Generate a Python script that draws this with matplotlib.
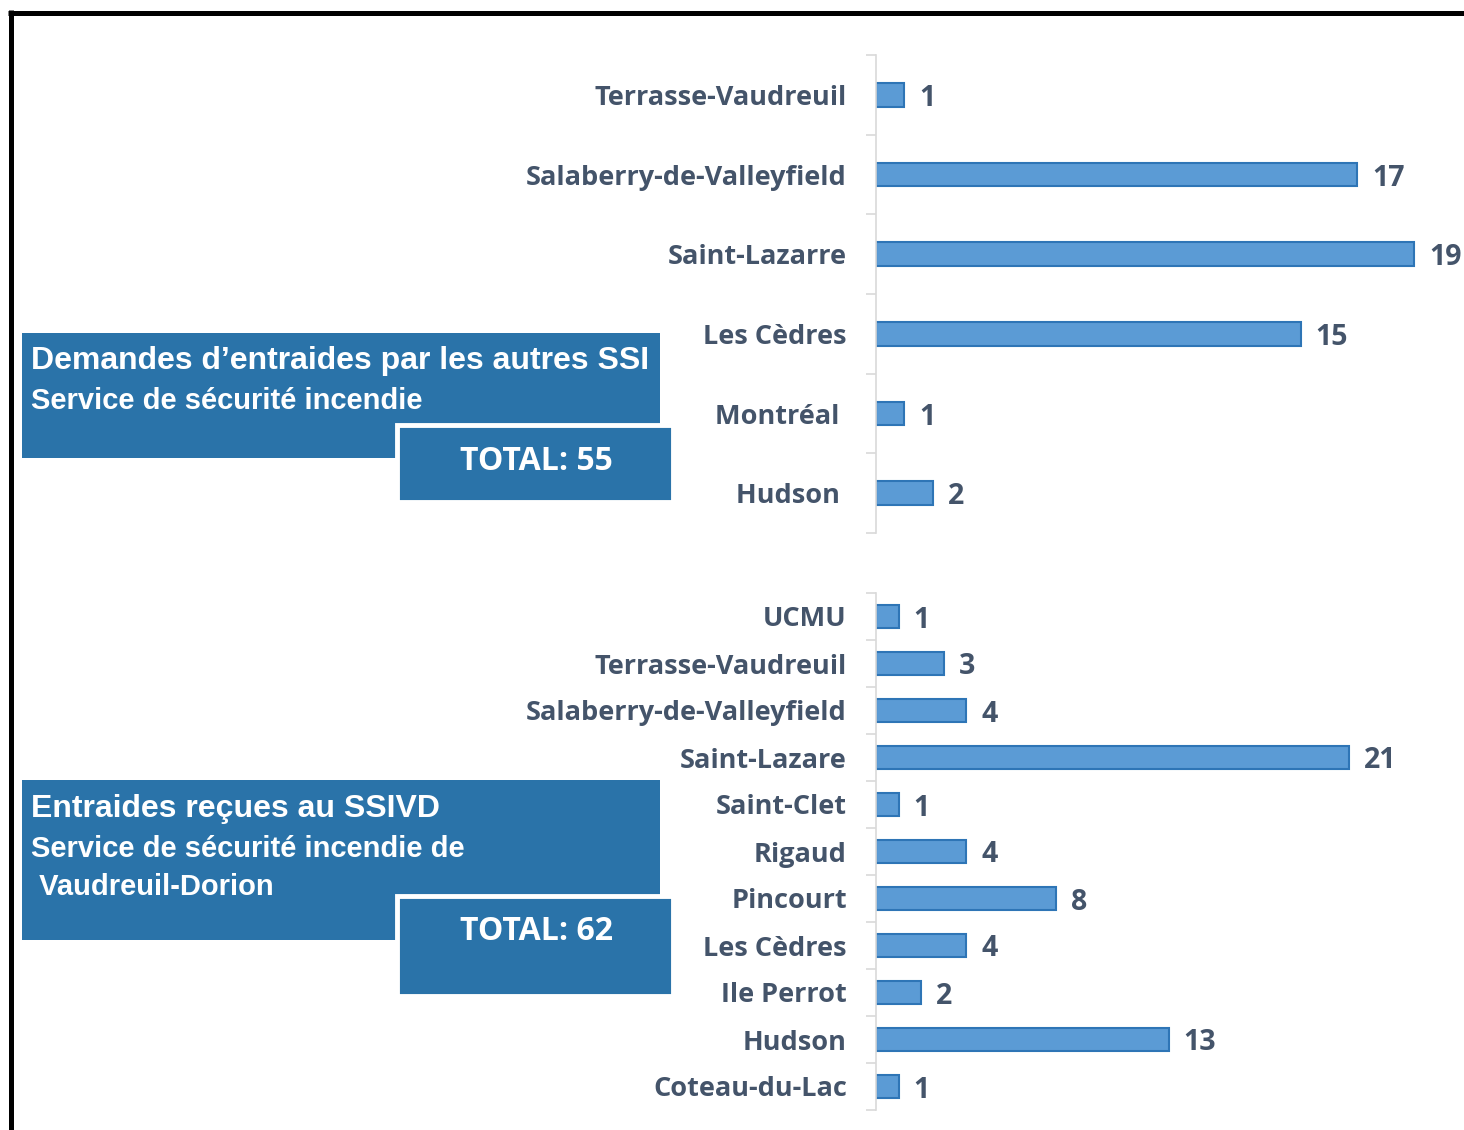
import matplotlib
matplotlib.use('Agg')
import matplotlib.pyplot as plt
from matplotlib.patches import Rectangle

# données
villes_demandes = ['Terrasse-Vaudreuil', 'Salaberry-de-Valleyfield', 'Saint-Lazarre',
                   'Les Cèdres', 'Montréal ', 'Hudson ']
nb_demandes = [1, 17, 19, 15, 1, 2]

villes_recues = ['UCMU', 'Terrasse-Vaudreuil', 'Salaberry-de-Valleyfield', 'Saint-Lazare',
                 'Saint-Clet', 'Rigaud', 'Pincourt', 'Les Cèdres', 'Ile Perrot',
                 'Hudson', 'Coteau-du-Lac']
nb_recues = [1, 3, 4, 21, 1, 4, 8, 4, 2, 13, 1]

W, H = 1464, 1130
TXT = '#44546a'
BOX = '#2a73a9'
FILL = '#5b9bd5'
EDGE = '#2e75b6'
FONT = ['Open Sans', 'DejaVu Sans']

fig = plt.figure(figsize=(W / 100, H / 100), dpi=100)

# fond : cadre noir et encadrés
bg = fig.add_axes([0, 0, 1, 1])
bg.set_xlim(0, W)
bg.set_ylim(H, 0)
bg.axis('off')
bg.plot([8, W + 10], [12.5, 12.5], color='black', lw=3.6, solid_capstyle='butt')
bg.plot([10.5, 10.5], [10, H + 10], color='black', lw=3.6, solid_capstyle='butt')


def encadre(y0, h_grand, y_petit, h_petit, lignes, total, y_total):
    bg.add_patch(Rectangle((22, y0), 638, h_grand, color=BOX, lw=0))
    bg.add_patch(Rectangle((397, y_petit), 276, h_petit, facecolor=BOX,
                           edgecolor='white', lw=3.5))
    for txt, y, size in lignes:
        bg.text(31, y, txt, color='white', fontsize=size, fontweight='bold',
                family='Liberation Sans', va='center', ha='left')
    bg.text(536, y_total, total, color='white', fontsize=23, fontweight='bold',
            family=FONT, va='center', ha='center')


encadre(333, 125, 425, 77,
        [('Demandes d\u2019entraides par les autres SSI', 361, 23),
         ('Service de sécurité incendie', 401, 21)],
        'TOTAL: 55', 461)
encadre(780, 160, 896, 100,
        [('Entraides reçues au SSIVD', 809, 23),
         ('Service de sécurité incendie de', 849, 21),
         (' Vaudreuil-Dorion', 887, 21)],
        'TOTAL: 62', 931)


def graphique(villes, valeurs, top, bottom, xmax, right, hauteur):
    ax = fig.add_axes([876 / W, 1 - bottom / H, (right - 876) / W, (bottom - top) / H])
    ax.patch.set_alpha(0)
    y = list(range(len(villes)))
    bars = ax.barh(y, valeurs, height=hauteur, color=FILL, edgecolor=EDGE, lw=1.5)
    labels = ax.bar_label(bars, padding=11, color=TXT, fontsize=20.5, fontweight='bold',
                          family=FONT)
    for t in labels:
        t.set_va('center_baseline')
    ax.set_xlim(0, xmax)
    ax.set_ylim(len(villes) - 0.5, -0.5)
    ax.set_yticks(y)
    ax.set_yticklabels(villes, color=TXT, fontsize=19.5, fontweight='bold', family=FONT)
    ax.set_yticks([i - 0.5 for i in range(len(villes) + 1)], minor=True)
    ax.tick_params(axis='y', which='major', length=0, pad=21)
    ax.tick_params(axis='y', which='minor', length=7, width=1.2, color='#d9d9d9')
    ax.set_xticks([])
    for s in ['top', 'right', 'bottom']:
        ax.spines[s].set_visible(False)
    ax.spines['left'].set_color('#d9d9d9')
    ax.spines['left'].set_linewidth(1.2)
    return ax


graphique(villes_demandes, nb_demandes, 55, 533, 20, 876 + 20 * 28.3, 0.3)
graphique(villes_recues, nb_recues, 593, 1110, 25, 876 + 25 * 22.5, 0.5)

fig.savefig('out.png', dpi=100)
